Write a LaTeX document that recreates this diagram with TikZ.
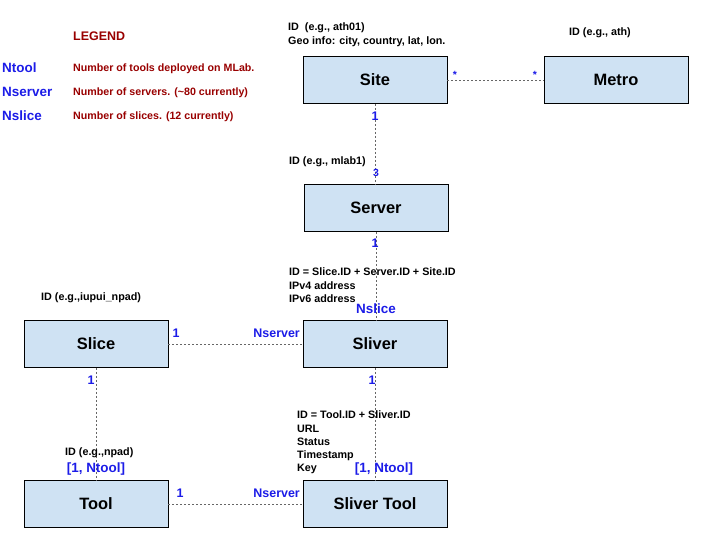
\documentclass[tikz,border=0pt]{standalone}
\usepackage{fontspec}
\setmainfont{Liberation Sans}
\usepackage{xcolor}
\usepackage{tikz}
\usetikzlibrary{positioning}
\definecolor{boxbg}{HTML}{CFE2F3}
\definecolor{linkgray}{HTML}{666666}
\definecolor{multblue}{HTML}{1C1CE8}
\definecolor{legred}{HTML}{990000}
\tikzset{
  entity/.style={draw=black, fill=boxbg, line width=0.9pt, minimum width=144bp, minimum height=47bp, font=\fontsize{16.5}{20}\selectfont\bfseries},
  link/.style={draw=linkgray, line width=0.8pt, dash pattern=on 2bp off 2bp},
  note/.style={text=black, font=\fontsize{10.8}{13.2}\selectfont\bfseries, align=left, inner sep=0pt, anchor=north west},
  mult/.style={text=multblue, font=\fontsize{12.5}{15}\selectfont\bfseries, inner sep=0pt, anchor=base},
  mults/.style={mult, font=\fontsize{10.5}{13}\selectfont\bfseries},
  legkey/.style={text=multblue, font=\fontsize{13.5}{16}\selectfont\bfseries, inner sep=0pt, anchor=base west},
  legtxt/.style={text=legred, font=\fontsize{10.7}{13}\selectfont\bfseries, inner sep=0pt, anchor=base west},
}
\begin{document}
\begin{tikzpicture}[x=1bp, y=-1bp]
\fill[white] (0,0) rectangle (720,540);
\useasboundingbox (0,0) rectangle (720,540);

% legend
\node[legtxt, font=\fontsize{12.5}{15}\selectfont\bfseries] (legend) at (73,41) {LEGEND};
\node[legkey] (kTool) at (2,73) {Ntool};
\node[legkey] (kServer) at (2,97) {Nserver};
\node[legkey] (kSlice) at (2,121) {Nslice};
\node[legtxt] (dTool) at (73,72) {Number of tools deployed on MLab.};
\node[legtxt] (dServer) at (73,96) {Number of servers. (\textasciitilde80 currently)};
\node[legtxt] (dSlice) at (73,120) {Number of slices. (12 currently)};

% entities
\node[entity] (site) at (375,80) {Site};
\node[entity] (metro) at (616,80) {Metro};
\node[entity] (server) at (376,208) {Server};
\node[entity] (slice) at (96,344) {Slice};
\node[entity] (sliver) at (375,344) {Sliver};
\node[entity] (tool) at (96,504) {Tool};
\node[entity] (slivertool) at (375,504) {Sliver Tool};

% links
\draw[link] (site) -- (metro);
\draw[link] (site.south) -- (site.south |- server.north);
\draw[link] (server.south) -- (server.south |- sliver.north);
\draw[link] (slice) -- (sliver);
\draw[link] (slice.south) -- (slice.south |- tool.north);
\draw[link] (sliver.south) -- (sliver.south |- slivertool.north);
\draw[link] (tool) -- (slivertool);

% attributes
\node[note] (siteNote) at (288,23) {ID\ \ (e.g., ath01)\\Geo info: city, country, lat, lon.};
\node[note] (metroNote) at (569,28) {ID (e.g., ath)};
\node[note] (serverNote) at (289,157) {ID (e.g., mlab1)};
\node[note] (sliverNote) at (289,268) {ID = Slice.ID + Server.ID + Site.ID\\IPv4 address\\IPv6 address};
\node[note] (sliceNote) at (41,293) {ID (e.g.,iupui\_npad)};
\node[note] (toolNote) at (65,448) {ID (e.g.,npad)};
\node[note] (stNote) at (297,411) {ID = Tool.ID + Sliver.ID\\URL\\Status\\Timestamp\\Key};

% multiplicities
\node[mults] (mSiteR) at (455,79) {*};
\node[mults] (mMetroL) at (535,79) {*};
\node[mult] (mSiteB) at (375,121) {1};
\node[mults] (mServerT) at (376,177) {3};
\node[mult] (mServerB) at (375,248) {1};
\node[mult, font=\fontsize{13.5}{16}\selectfont\bfseries] (mSliverT) at (376,313) {Nslice};
\node[mult] (mSliceR) at (176,337) {1};
\node[mult, anchor=base east] (mSliverL) at (300,337) {Nserver};
\node[mult] (mSliceB) at (91,384) {1};
\node[mult] (mSliverB) at (372,384) {1};
\node[mult, font=\fontsize{13.5}{16}\selectfont\bfseries] (mToolT) at (96,472) {[1, Ntool]};
\node[mult, font=\fontsize{13.5}{16}\selectfont\bfseries] (mStT) at (384,472) {[1, Ntool]};
\node[mult] (mToolR) at (180,497) {1};
\node[mult, anchor=base east] (mStL) at (300,497) {Nserver};
\end{tikzpicture}
\end{document}
